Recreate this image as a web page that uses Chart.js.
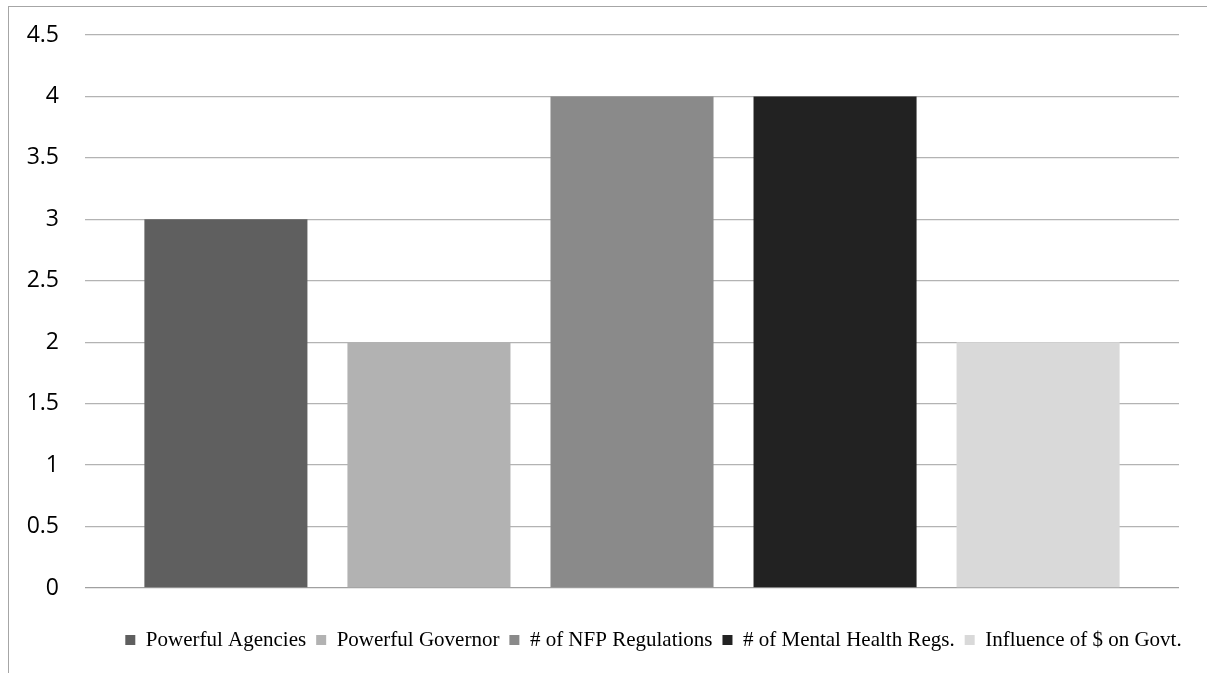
<!DOCTYPE html>
<html>
<head>
<meta charset="utf-8">
<script src="https://cdn.jsdelivr.net/npm/chart.js@4/dist/chart.umd.min.js"></script>
<style>
  html, body { margin: 0; padding: 0; background: #fff; overflow: hidden; }
  #wrap { position: relative; width: 1207px; height: 673px; }
  #frame {
    position: absolute; left: 8px; top: 6px; right: -10px; bottom: -10px;
    border-top: 1px solid #a6a6a6; border-left: 1px solid #a6a6a6;
  }
  #c { position: absolute; left: 0; top: 0; }
</style>
</head>
<body>
<div id="wrap">
  <div id="frame"></div>
  <canvas id="c" width="1207" height="673"></canvas>
</div>
<script>
// One category, five series (each series is a single bar)
const categories = [''];
const seriesNames = [
  'Powerful Agencies',
  'Powerful Governor',
  '# of NFP Regulations',
  '# of Mental Health Regs.',
  'Influence of $ on Govt.'
];
const seriesValues = [3, 2, 4, 4, 2];
const seriesColors = ['#5f5f5f', '#b2b2b2', '#8a8a8a', '#222222', '#d9d9d9'];
const yMin = 0, yMax = 4.5, yStep = 0.5;

const datasets = seriesNames.map((name, i) => ({
  label: name,
  data: [seriesValues[i]],
  backgroundColor: seriesColors[i],
  borderWidth: 0,
  categoryPercentage: 0.928,
  barPercentage: 0.803
}));

// Shifts the bottom legend sideways so it is centred under the full frame
const legendShift = {
  id: 'legendShift',
  afterLayout(chart, args, opts) {
    const lg = chart.legend;
    if (lg) { lg.left += opts.dx; lg.right += opts.dx; }
  }
};

new Chart(document.getElementById('c'), {
  type: 'bar',
  data: { labels: categories, datasets },
  plugins: [legendShift],
  options: {
    responsive: false,
    animation: false,
    layout: { padding: { left: 0, right: 28, top: 35, bottom: 12.5 } },
    scales: {
      x: {
        display: true,
        grid: { display: false },
        border: { display: false },
        ticks: { display: false },
        afterFit(s) { s.height = 31.5; }
      },
      y: {
        min: yMin,
        max: yMax,
        border: { display: false },
        grid: {
          drawTicks: false,
          lineWidth: 1.3,
          color: (ctx) => (ctx.tick && ctx.tick.value === 0 ? '#a0a0a0' : '#b3b3b3')
        },
        ticks: {
          stepSize: yStep,
          padding: 26,
          color: '#000',
          font: { family: '"Open Sans", sans-serif', size: 23 },
          callback: (v) => String(v)
        },
        afterFit(s) {
          s.width = 85;
          // the plot top is set by the layout padding alone
          s.paddingTop = 0;
          s.paddingBottom = 0;
        }
      }
    },
    plugins: {
      legendShift: { dx: 64 },
      tooltip: { enabled: false },
      legend: {
        position: 'bottom',
        labels: {
          boxWidth: 10,
          boxHeight: 10,
          padding: 10,
          color: '#000',
          font: { family: '"Liberation Serif", "Times New Roman", serif', size: 21 }
        }
      }
    }
  }
});
</script>
</body>
</html>
